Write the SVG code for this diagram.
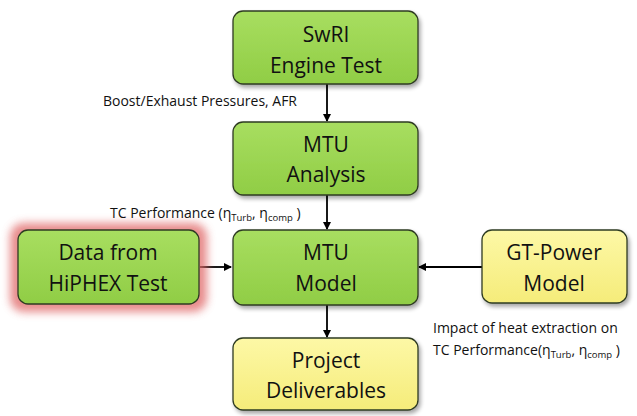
<svg xmlns="http://www.w3.org/2000/svg" width="637" height="416" viewBox="0 0 637 416">
<style>
.node{stroke:#2e3b22;stroke-width:1.3}
.green{fill:url(#gGreen)}
.yellow{fill:url(#gYellow)}
.nt{font-family:"Open Sans","Liberation Sans",sans-serif;font-size:21px;fill:#111;text-anchor:middle}
.lb{font-family:"Open Sans","Liberation Sans",sans-serif;font-size:14px;fill:#111}
.sub{font-size:9.5px}
.conn{stroke:#000;stroke-width:1.8;fill:none;marker-end:url(#arr)}
</style>
<defs>
<linearGradient id="gGreen" x1="0" y1="0" x2="0" y2="1">
<stop offset="0" stop-color="#a8de60"/><stop offset="1" stop-color="#90cd45"/>
</linearGradient>
<linearGradient id="gYellow" x1="0" y1="0" x2="0" y2="1">
<stop offset="0" stop-color="#fdf8a6"/><stop offset="1" stop-color="#f5ec7a"/>
</linearGradient>
<filter id="shadow" x="-10%" y="-10%" width="130%" height="130%">
<feGaussianBlur in="SourceAlpha" stdDeviation="2"/>
<feOffset dx="2" dy="3" result="b"/>
<feComponentTransfer><feFuncA type="linear" slope="0.35"/></feComponentTransfer>
<feMerge><feMergeNode/><feMergeNode in="SourceGraphic"/></feMerge>
</filter>
<filter id="glow" x="-20%" y="-30%" width="140%" height="160%">
<feGaussianBlur stdDeviation="4"/>
</filter>
<marker id="arr" markerWidth="8" markerHeight="8" refX="7" refY="4" orient="auto" markerUnits="userSpaceOnUse">
<path d="M0,0 L8,4 L0,8 z" fill="#000"/>
</marker>
</defs>

<g id="connectors">
<line class="conn" x1="327" y1="84" x2="327" y2="121"/>
<line class="conn" x1="327" y1="195" x2="327" y2="229"/>
<line class="conn" x1="327" y1="305" x2="327" y2="337"/>
<line class="conn" x1="200" y1="267" x2="231" y2="267"/>
<line class="conn" x1="482" y1="267" x2="419" y2="267"/>
</g>

<g id="swri">
<rect class="node green" x="233" y="11" width="185" height="73" rx="10" filter="url(#shadow)"/>
<text class="nt" x="326" y="42">SwRI</text>
<text class="nt" x="326" y="73">Engine Test</text>
</g>

<g id="mtu-analysis">
<rect class="node green" x="233" y="122" width="185" height="73" rx="10" filter="url(#shadow)"/>
<text class="nt" x="326" y="152">MTU</text>
<text class="nt" x="326" y="182">Analysis</text>
</g>

<g id="mtu-model">
<rect class="node green" x="233" y="230" width="185" height="75" rx="10" filter="url(#shadow)"/>
<text class="nt" x="326" y="260">MTU</text>
<text class="nt" x="326" y="291">Model</text>
</g>

<g id="hiphex">
<rect x="10" y="223" width="197" height="89" rx="14" fill="#e06666" opacity="0.75" filter="url(#glow)"/>
<rect class="node green" x="18" y="230" width="181" height="74" rx="10"/>
<text class="nt" x="108" y="260">Data from</text>
<text class="nt" x="108" y="291">HiPHEX Test</text>
</g>

<g id="gt-power">
<rect class="node yellow" x="482" y="230" width="145" height="73" rx="10" filter="url(#shadow)"/>
<text class="nt" x="554" y="260">GT-Power</text>
<text class="nt" x="554" y="291">Model</text>
</g>

<g id="deliverables">
<rect class="node yellow" x="233" y="338" width="185" height="72" rx="10" filter="url(#shadow)"/>
<text class="nt" x="326" y="368">Project</text>
<text class="nt" x="326" y="398">Deliverables</text>
</g>

<g id="labels">
<text class="lb" x="103" y="106" textLength="194" lengthAdjust="spacingAndGlyphs">Boost/Exhaust Pressures, AFR</text>
<text class="lb" x="110" y="218">TC Performance (η<tspan class="sub" dy="3">Turb</tspan><tspan dy="-3">, η</tspan><tspan class="sub" dy="3">comp</tspan><tspan dy="-3"> )</tspan></text>
<text class="lb" x="433" y="333">Impact of heat extraction on</text>
<text class="lb" x="433" y="355">TC Performance(η<tspan class="sub" dy="3">Turb</tspan><tspan dy="-3">, η</tspan><tspan class="sub" dy="3">comp</tspan><tspan dy="-3"> )</tspan></text>
</g>
</svg>
